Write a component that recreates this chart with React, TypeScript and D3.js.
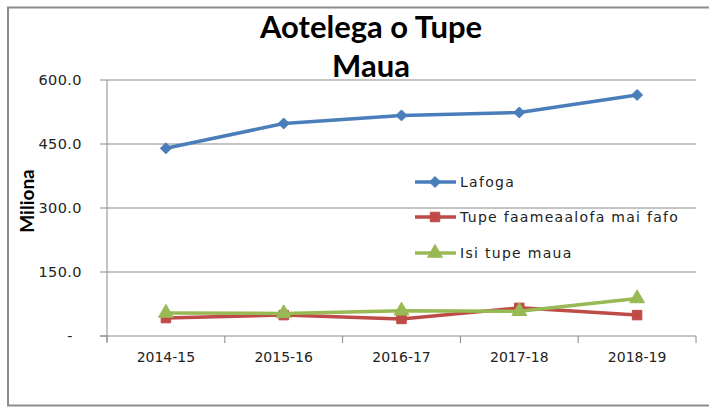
import React from "react";
import * as d3 from "d3";

const categories = ["2014-15", "2015-16", "2016-17", "2017-18", "2018-19"];
const lafoga = [440, 498, 517, 524, 565];
const tupeFaameaalofa = [42, 49, 40, 66, 49];
const isiTupeMaua = [54, 53, 59, 58, 88];
const yTicks = [0, 150, 300, 450, 600];
const titleLines = ["Aotelega o Tupe", "Maua"];
const yAxisTitle = "Miliona";

const seriesList = [
  { name: "Lafoga", values: lafoga, color: "#4A7EBB", marker: "diamond" },
  { name: "Tupe faameaalofa mai fafo", values: tupeFaameaalofa, color: "#BE4B48", marker: "square" },
  { name: "Isi tupe maua", values: isiTupeMaua, color: "#98B954", marker: "triangle" },
];

const W = 709;
const H = 408;
const plot = { left: 107, right: 696, top: 80, bottom: 336 };

function Marker({ type, x, y, color }: { type: string; x: number; y: number; color: string }) {
  if (type === "diamond") {
    const r = 5.5;
    return (
      <path
        d={`M${x},${y - r}L${x + r},${y}L${x},${y + r}L${x - r},${y}Z`}
        fill={color}
        stroke={color}
        strokeWidth={1}
      />
    );
  }
  const sym = type === "square" ? d3.symbolSquare : d3.symbolTriangle;
  const size = type === "square" ? 90 : 95;
  const path = d3.symbol().type(sym).size(size)() as string;
  return <path d={path} transform={`translate(${x},${y})`} fill={color} stroke={color} strokeWidth={1} />;
}

export default function App() {
  const x = d3.scaleBand<string>().domain(categories).range([plot.left, plot.right]);
  const y = d3.scaleLinear().domain([0, 600]).range([plot.bottom, plot.top]);
  const cx = (c: string) => (x(c) as number) + x.bandwidth() / 2;
  const line = d3
    .line<number>()
    .x((_, i) => cx(categories[i]))
    .y((v) => y(v));

  const fmt = (v: number) => (v === 0 ? "-" : d3.format(".1f")(v));
  const boundaries = [...categories.map((c) => x(c) as number), plot.right];

  const legendX = 415;
  const legendYs = [182, 217, 253];

  return (
    <svg
      width={W}
      height={H}
      style={{ position: "absolute", left: 0, top: 0, background: "#fff" }}
      fontFamily="'DejaVu Sans', Verdana, sans-serif"
    >
      <rect x={0} y={0} width={W} height={H} fill="#fff" />
      <rect x={8} y={7.5} width={720} height={398} fill="none" stroke="#8c8c8c" strokeWidth={2} />

      {/* gridlines */}
      {yTicks.map((t) => (
        <g key={t}>
          {t !== 0 && (
            <line x1={plot.left} x2={plot.right} y1={y(t)} y2={y(t)} stroke="#8a8a8a" strokeWidth={1} />
          )}
          <line x1={plot.left - 7} x2={plot.left} y1={y(t)} y2={y(t)} stroke="#8a8a8a" strokeWidth={1} />
          <text
            x={t === 0 ? 73 : 82}
            y={y(t)}
            dy="0.35em"
            textAnchor="end"
            fontSize={14.5}
            letterSpacing={0.4}
            fill="#222"
          >
            {fmt(t)}
          </text>
        </g>
      ))}

      {/* axes */}
      <line x1={plot.left} x2={plot.left} y1={plot.top} y2={plot.bottom + 6} stroke="#8a8a8a" strokeWidth={1} />
      <line x1={plot.left - 7} x2={plot.right} y1={plot.bottom} y2={plot.bottom} stroke="#8a8a8a" strokeWidth={1} />
      {boundaries.map((b, i) => (
        <line key={i} x1={b} x2={b} y1={plot.bottom} y2={plot.bottom + 7} stroke="#8a8a8a" strokeWidth={1} />
      ))}
      {categories.map((c) => (
        <text key={c} x={cx(c)} y={362} textAnchor="middle" fontSize={14} fill="#222">
          {c}
        </text>
      ))}

      {/* y axis title */}
      <text
        transform={`translate(34,201) rotate(-90)`}
        textAnchor="middle"
        fontSize={19}
        fontWeight="bold"
        fontFamily="Lato, 'DejaVu Sans', sans-serif"
        fill="#000"
      >
        {yAxisTitle}
      </text>

      {/* title */}
      {titleLines.map((t, i) => (
        <text
          key={i}
          x={371}
          y={38 + i * 39}
          textAnchor="middle"
          fontSize={31}
          fontWeight="bold"
          fontFamily="Lato, 'Open Sans', sans-serif"
          fill="#000"
        >
          {t}
        </text>
      ))}

      {/* series */}
      {seriesList.map((s) => (
        <g key={s.name}>
          <path d={line(s.values) as string} fill="none" stroke={s.color} strokeWidth={3.5} strokeLinejoin="round" />
          {s.values.map((v, i) => (
            <Marker key={i} type={s.marker} x={cx(categories[i])} y={y(v)} color={s.color} />
          ))}
        </g>
      ))}

      {/* legend */}
      {seriesList.map((s, i) => (
        <g key={s.name}>
          <line x1={legendX} x2={legendX + 41} y1={legendYs[i]} y2={legendYs[i]} stroke={s.color} strokeWidth={3.5} />
          <Marker type={s.marker} x={legendX + 20} y={legendYs[i]} color={s.color} />
          <text
            x={legendX + 45}
            y={legendYs[i]}
            dy="0.35em"
            fontSize={14}
            letterSpacing={1.3}
            fill="#222"
          >
            {s.name}
          </text>
        </g>
      ))}
    </svg>
  );
}
